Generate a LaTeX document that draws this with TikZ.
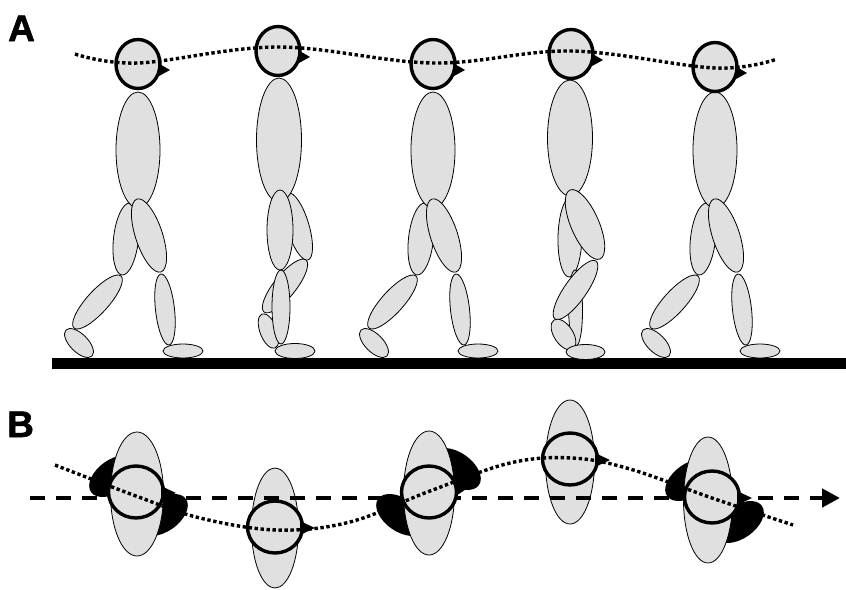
\documentclass[tikz,border=0pt]{standalone}
\usepackage{fontspec}
\usetikzlibrary{shapes.geometric,arrows.meta}
\newfontface\panelfont[FakeBold=1.5]{Liberation Sans Bold}
\definecolor{stipple}{gray}{0.88}

\tikzset{
  limb/.style={ellipse, draw, line width=0.8pt, fill=stipple, inner sep=0pt, outer sep=0pt},
  headA/.style={ellipse, draw, line width=3.4pt, fill=stipple, inner sep=0pt,
                minimum width=44pt, minimum height=49pt},
  headB/.style={ellipse, draw, line width=3.4pt, fill=stipple, inner sep=0pt,
                minimum width=55pt, minimum height=52pt},
  torso/.style={ellipse, draw, line width=0.8pt, fill=stipple, inner sep=0pt},
  sole/.style={ellipse, fill=black, inner sep=0pt, minimum width=56pt, minimum height=33pt},
  dotline/.style={line width=3.4pt, dash pattern=on 3.4pt off 2.6pt},
  dashline/.style={line width=4.5pt, dash pattern=on 15pt off 11pt},
  panel/.style={inner sep=0pt, anchor=base west, font=\panelfont\fontsize{37}{37}\selectfont}
}

% ellipse limb between two end points: name, x1, y1, x2, y2, thickness
\newcommand\limb[6]{%
  \pgfmathsetmacro\limbang{atan2(#3-#5,#4-#2)}%
  \pgfmathsetmacro\limblen{veclen(#4-#2,#5-#3)}%
  \node[limb, rotate=\limbang, minimum width=\limblen pt, minimum height=#6pt]
    (#1) at ({(#2+#4)/2},{(#3+#5)/2}) {};}

% walker in mid stride: rear leg trailing, front leg planted
\newcommand\strideFigure[1]{%
  \limb{#1bt}{130}{203}{122}{275}{25}
  \limb{#1bs}{121}{276}{74}{328}{22}
  \limb{#1bf}{66}{330}{92}{356}{18}
  \limb{#1tr}{138}{92}{138}{208}{44}
  \limb{#1ft}{137}{199}{161}{272}{27}
  \limb{#1fs}{161}{274}{169}{345}{19}
  \limb{#1ff}{163}{351}{203}{351}{14}
}

% small triangular nose on the right of a head
\newcommand\noseA[1]{\fill (#1.center) ++(20,-1) -- ++(12,7) -- ++(-11,6) -- cycle;}
\newcommand\noseB[1]{\fill (#1.center) ++(25,-6) -- ++(15,7) -- ++(-15,7) -- cycle;}

\begin{document}
\begin{tikzpicture}[x=1pt,y=-1pt]
\useasboundingbox (0,0) rectangle (846,589);

% panel letters
\node[panel] (labA) at (8,41) {A};
\node[panel] (labB) at (7,437) {B};

% ---------------- side view ----------------
\fill (52,358) rectangle (846,369);

\begin{scope}\strideFigure{fa}\end{scope}
\begin{scope}[xshift=295pt]\strideFigure{fc}\end{scope}
\begin{scope}[xshift=577pt]\strideFigure{fe}\end{scope}

% second walker: legs passing
\limb{fbbt}{288}{193}{308}{260}{22}
\limb{fbbs}{306}{260}{264}{312}{22}
\limb{fbbf}{262}{314}{275}{348}{17}
\limb{fbtr}{279}{78}{279}{202}{45}
\limb{fbft}{280}{190}{280}{270}{26}
\limb{fbfs}{281}{270}{281}{344}{18}
\limb{fbff}{275}{351}{315}{351}{15}

% fourth walker: legs passing
\limb{fdbt}{571}{197}{569}{277}{24}
\limb{fdtr}{570}{80}{570}{196}{45}
\limb{fdbs}{575}{270}{576}{346}{14}
\limb{fdft}{570}{190}{600}{259}{28}
\limb{fdfs}{596}{261}{555}{319}{22}
\limb{fdff}{554}{320}{573}{349}{19}
\limb{fdbf}{566}{352}{605}{352}{15}

% heads
\node[headA] (ha1) at (138,64) {};
\node[headA] (ha2) at (278,51) {};
\node[headA] (ha3) at (433,64) {};
\node[headA] (ha4) at (571,54) {};
\node[headA] (ha5) at (715,67) {};
\noseA{ha1}\noseA{ha2}\noseA{ha3}\noseA{ha4}\noseA{ha5}

% path of the head
\coordinate (pa0) at (75,54);
\coordinate (pa1) at (138,63);
\coordinate (pa2) at (278,47);
\coordinate (pa3) at (433,63);
\coordinate (pa4) at (571,51);
\coordinate (pa5) at (715,68);
\coordinate (pa6) at (777,59);
\draw[dotline] plot[smooth, tension=0.6] coordinates {(pa0) (pa1) (pa2) (pa3) (pa4) (pa5) (pa6)};

% ---------------- top view ----------------
% feet
\node[sole, rotate=35]  (sb1a) at (114,476) {};
\node[sole, rotate=35]  (sb1b) at (163,515) {};
\node[sole, rotate=-35] (sb3a) at (456,469) {};
\node[sole, rotate=-35] (sb3b) at (401,515) {};
\node[sole, rotate=35]  (sb5a) at (690,480) {};
\node[sole, rotate=35]  (sb5b) at (739,522) {};

% shoulders
\node[torso, minimum width=53pt, minimum height=124pt] (tb1) at (137,494) {};
\node[torso, minimum width=47pt, minimum height=120pt] (tb2) at (275,528) {};
\node[torso, minimum width=51pt, minimum height=124pt] (tb3) at (429,493) {};
\node[torso, minimum width=49pt, minimum height=124pt] (tb4) at (570,462) {};
\node[torso, minimum width=49pt, minimum height=126pt] (tb5) at (708,500) {};

% walking direction
\coordinate (dirs) at (30,498);
\coordinate (dire) at (840,498);
\draw[dashline, -{Triangle[length=18pt, width=18pt]}] (dirs) -- (dire);

% heads
\node[headB] (hb1) at (136,492) {};
\node[headB] (hb2) at (275,527) {};
\node[headB] (hb3) at (429,492) {};
\node[headB] (hb4) at (570,459) {};
\node[headB] (hb5) at (712,497) {};
\noseB{hb1}\noseB{hb2}\noseB{hb4}\noseB{hb5}
\fill (hb3.center) ++(25,-9) -- ++(15,4) -- ++(-13,9) -- cycle;

% sideways sway of the head
\coordinate (pb0) at (55,465);
\coordinate (pb1) at (136,496);
\coordinate (pb2) at (200,518);
\coordinate (pb3) at (277,530);
\coordinate (pb4) at (350,522);
\coordinate (pb5) at (430,491);
\coordinate (pb6) at (510,463);
\coordinate (pb7) at (572,458);
\coordinate (pb8) at (630,469);
\coordinate (pb9) at (712,498);
\coordinate (pb10) at (793,525);
\draw[dotline] plot[smooth, tension=0.6] coordinates {(pb0) (pb1) (pb2) (pb3) (pb4) (pb5) (pb6) (pb7) (pb8) (pb9) (pb10)};

\end{tikzpicture}
\end{document}
